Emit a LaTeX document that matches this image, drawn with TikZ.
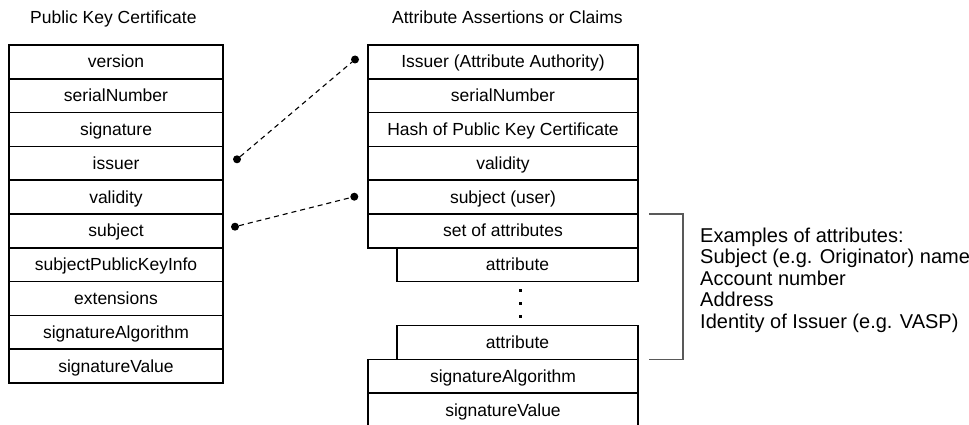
\documentclass[tikz,border=0pt]{standalone}
\usepackage{fontspec}
\setmainfont{Liberation Sans}
\begin{document}
\begin{tikzpicture}[x=1pt,y=-1pt,
  rowbox/.style={draw, line width=1.6pt, minimum height=33.8pt, inner sep=0pt,
    text height=14pt, text depth=2pt, font=\fontsize{17.5}{20}\selectfont},
  lrow/.style={rowbox, minimum width=214pt},
  rrow/.style={rowbox, minimum width=270pt},
  arow/.style={rowbox, minimum width=241pt},
  dotnode/.style={circle, fill=black, inner sep=0pt, minimum size=8pt},
  vdot/.style={rectangle, fill=black, inner sep=0pt, minimum size=3pt},
  link/.style={line width=1.1pt, dash pattern=on 5pt off 4pt},
  titletext/.style={anchor=base west, inner sep=0pt, font=\fontsize{17.5}{20}\selectfont},
  extext/.style={anchor=base west, inner sep=0pt, font=\fontsize{20}{22}\selectfont},
  bracketline/.style={line width=1.3pt, draw=black!65}
]
\useasboundingbox (0,0) rectangle (969,425);

\node[titletext] (t1) at (30,24) {Public Key Certificate};
\node[titletext] (t2) at (392,24) {Attribute Assertions or Claims};

% left table
\foreach \txt [count=\i from 0] in {version,serialNumber,signature,issuer,validity,subject,subjectPublicKeyInfo,extensions,signatureAlgorithm,signatureValue}{
  \node[lrow] (L\i) at (116,{61.9+33.8*\i}) {\txt};
}

% right table
\node[rrow] (R0) at (503,61.9) {Issuer (Attribute Authority)};
\node[rrow] (R1) at (503,95.7) {serialNumber};
\node[rrow] (R2) at (503,129.5) {Hash of Public Key Certificate};
\node[rrow] (R3) at (503,163.3) {validity};
\node[rrow] (R4) at (503,197.1) {subject (user)};
\node[rrow] (R5) at (503,230.9) {set of attributes};
\node[arow] (A1) at (517.5,264.7) {attribute};
\node[vdot] (v1) at (520,290) {};
\node[vdot] (v2) at (520,303) {};
\node[vdot] (v3) at (520,316) {};
\node[arow] (A2) at (517.5,342.5) {attribute};
\node[rrow] (R6) at (503,376.3) {signatureAlgorithm};
\node[rrow] (R7) at (503,410.1) {signatureValue};

% dashed connectors
\node[dotnode] (d1) at (237,159.3) {};
\node[dotnode] (d2) at (355,59.5) {};
\node[dotnode] (d3) at (235,226.7) {};
\node[dotnode] (d4) at (354.3,196.7) {};
\draw[link] (d1) -- (d2);
\draw[link] (d3) -- (d4);

% bracket
\coordinate (b1) at (649,214);
\coordinate (b2) at (683,214);
\coordinate (b3) at (683,359.5);
\coordinate (b4) at (649,359.5);
\draw[bracketline] (b1) -- (b2) -- (b3) -- (b4);

% examples
\node[extext] (e1) at (700,242) {Examples of attributes:};
\node[extext] (e2) at (700,263.5) {Subject (e.g. Originator) name};
\node[extext] (e3) at (700,285) {Account number};
\node[extext] (e4) at (700,306.5) {Address};
\node[extext] (e5) at (700,328) {Identity of Issuer (e.g. VASP)};
\end{tikzpicture}
\end{document}
